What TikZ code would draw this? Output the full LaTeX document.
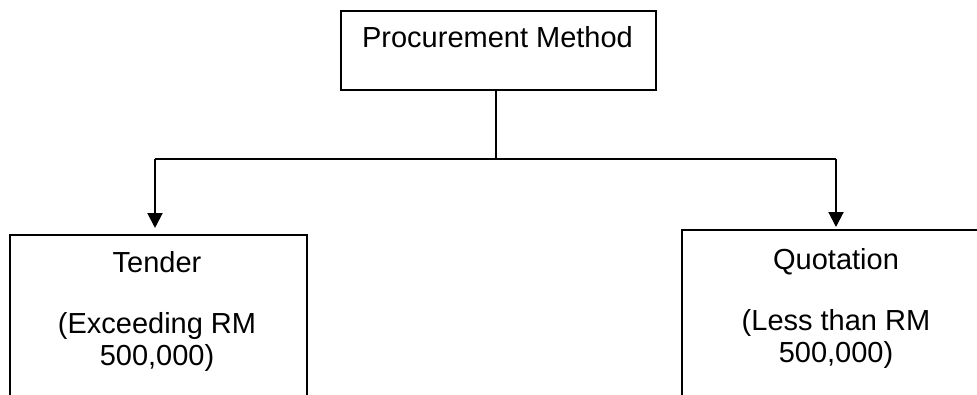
\documentclass[tikz,border=0pt]{standalone}
\usepackage{fontspec}
\setmainfont{Liberation Sans}
\usetikzlibrary{arrows.meta}
\begin{document}
\begin{tikzpicture}[x=1pt,y=-1pt,
  boxstyle/.style={draw=black, line width=1.6pt, rectangle, inner sep=0pt, anchor=north west},
  txt/.style={inner sep=0pt, anchor=base, font=\fontsize{29}{32}\selectfont},
  conn/.style={line width=2pt},
  arr/.style={line width=2pt, -{Triangle[width=15pt,length=15pt]}}]
\clip (0,0) rectangle (977,394);
\fill[white] (0,0) rectangle (977,394);
% boxes
\node[boxstyle, minimum width=315pt, minimum height=79pt] (top) at (340,10) {};
\node[boxstyle, minimum width=297pt, minimum height=250pt] (tender) at (9,234) {};
\node[boxstyle, minimum width=310pt, minimum height=250pt] (quot) at (681,229) {};
% texts
\node[txt] (toptext) at (497.5,47) {Procurement Method};
\node[txt] (t1) at (157,272) {Tender};
\node[txt] (t2) at (157,333) {(Exceeding RM};
\node[txt] (t3) at (157,365) {500,000)};
\node[txt] (q1) at (836,269) {Quotation};
\node[txt] (q2) at (836,330) {(Less than RM};
\node[txt] (q3) at (836,362) {500,000)};
% connectors
\coordinate (j) at (496,159);
\coordinate (jl) at (155,159);
\coordinate (jr) at (836,159);
\coordinate (al) at (155,234);
\coordinate (ar) at (836,229);
\draw[conn] (top.south -| j) -- (j);
\draw[conn] (jl) -- (jr);
\draw[arr, shorten >=6pt] (jl) -- (al);
\draw[arr, shorten >=2pt] (jr) -- (ar);
\end{tikzpicture}
\end{document}
